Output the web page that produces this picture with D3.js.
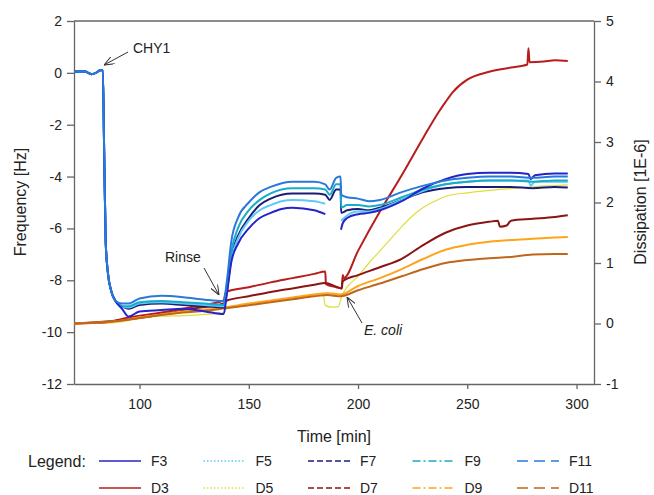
<!DOCTYPE html>
<html>
  <head>
    <meta charset="utf-8">
    <title>QCM frequency and dissipation</title>
    <script src="https://cdn.jsdelivr.net/npm/d3@7"></script>
    <style>
      body { margin: 0; background: #fff; }
      svg { font-family: Arial, "Liberation Sans", sans-serif; }
      .tick text { font-size: 14px; fill: #222; }
      .domain, .tick line { stroke: #666; stroke-width: 1.3; }
      .series { fill: none; stroke-linejoin: round; }
    </style>
  </head>
  <body>
    <svg id="chart" width="654" height="495"></svg>

    <script>
      // data: [time (min), value]
      // frequency (Hz), left axis
      F3 = [[70,0.05],[75,0.05],[78,-0.05],[80,0],[82,0.1],[83.2,0.1],[83.8,-3],[84.5,-6.5],[85.5,-7.7],[87,-8.4],[89,-8.8],[92,-9.1],
        [95,-9.4],[100,-9.2],[110,-9.15],[120,-9.1],[130,-9.2],[138.5,-9.3],[140,-8.5],[142,-7.3],[145,-6.6],[150,-6.0],[155,-5.6],
        [160,-5.4],[165,-5.25],[170,-5.2],[180,-5.3],[185,-5.45],[188,null],[192.2,-6.05],[193,-5.8],[195,-5.6],[200,-5.45],[205,-5.4],
        [210,-5.3],[220,-4.95],[230,-4.45],[240,-4.1],[250,-3.9],[260,-3.85],[270,-3.85],[278,-3.9],[279,-4.1],[281,-3.95],[290,-3.88],[296,-3.88]];
      F5 = [[70,0.05],[75,0.05],[78,-0.05],[80,0],[82,0.1],[83.2,0.1],[83.8,-3],[84.5,-6.5],[85.5,-7.7],[87,-8.4],[89,-8.8],[92,-9.0],
        [95,-9.05],[100,-8.9],[110,-8.85],[120,-8.9],[130,-8.95],[138.5,-9.0],[140,-8.4],[142,-7.2],[145,-6.4],[150,-5.7],[155,-5.3],
        [160,-5.1],[165,-4.95],[170,-4.9],[180,-4.95],[185,-5.05],[188,null],[192.2,-5.7],[195,-5.5],[200,-5.35],[205,-5.35],
        [210,-5.25],[220,-4.9],[230,-4.55],[240,-4.3],[250,-4.2],[260,-4.15],[270,-4.15],[278,-4.15],[279,-4.35],[281,-4.2],[290,-4.2],[296,-4.2]];
      F7 = [[70,0.05],[75,0.05],[78,-0.05],[80,0],[82,0.1],[83.2,0.1],[83.8,-3],[84.5,-6.5],[85.5,-7.7],[87,-8.4],[89,-8.8],[92,-9.0],
        [95,-9.1],[100,-8.95],[110,-8.9],[120,-8.95],[130,-9.0],[138.5,-9.05],[140,-8.4],[142,-7.1],[145,-6.3],[150,-5.6],[155,-5.1],
        [160,-4.85],[170,-4.65],[180,-4.65],[185,-4.7],[187,-4.9],[190,-4.5],[192,-4.5],[192.3,-5.4],[195,-5.3],[200,-5.25],[205,-5.3],
        [210,-5.2],[220,-4.9],[230,-4.6],[240,-4.45],[250,-4.4],[260,-4.4],[270,-4.4],[280,-4.45],[290,-4.4],[296,-4.42]];
      F9 = [[70,0.05],[75,0.05],[78,-0.05],[80,0],[82,0.1],[83.2,0.1],[83.8,-3],[84.5,-6.5],[85.5,-7.7],[87,-8.4],[89,-8.8],[92,-9.0],
        [95,-9.0],[100,-8.85],[110,-8.8],[120,-8.85],[130,-8.9],[138.5,-8.95],[140,-8.2],[142,-6.9],[145,-6.0],[150,-5.3],[155,-4.9],
        [160,-4.65],[170,-4.45],[180,-4.45],[185,-4.5],[187,-4.7],[190,-4.3],[192,-4.3],[192.3,-5.2],[195,-5.1],[200,-5.1],[205,-5.15],
        [210,-5.1],[220,-4.8],[230,-4.5],[240,-4.3],[250,-4.2],[260,-4.15],[270,-4.15],[280,-4.2],[290,-4.15],[296,-4.15]];
      F11 = [[70,0.05],[75,0.05],[78,-0.05],[80,0],[82,0.1],[83.2,0.1],[83.8,-3],[84.5,-6.5],[85.5,-7.7],[87,-8.4],[89,-8.8],[92,-8.9],
        [95,-8.9],[100,-8.7],[110,-8.6],[120,-8.65],[130,-8.75],[138.5,-8.8],[140,-8.0],[142,-6.5],[145,-5.6],[150,-5.0],[155,-4.6],
        [160,-4.4],[170,-4.2],[180,-4.2],[185,-4.3],[187,-4.5],[190,-4.05],[192,-4.0],[192.3,-4.7],[195,-4.8],[200,-4.85],[205,-4.95],
        [210,-4.9],[220,-4.6],[230,-4.35],[240,-4.15],[250,-4.05],[260,-4.0],[270,-4.0],[280,-4.05],[290,-4.0],[296,-4.0]];

      // dissipation (1E-6), right axis
      D3 = [[70,0],[85,0.02],[95,0.1],[110,0.18],[125,0.28],[138.5,0.38],[139.5,0.52],[150,0.6],[160,0.68],[170,0.75],[180,0.82],
        [185,0.86],[185.3,0.65],[190,0.6],[192.5,0.58],[193,0.8],[193.5,0.75],[200,1.2],[210,1.85],[220,2.45],[230,3.08],[237,3.5],
        [240,3.66],[243.5,3.83],[250,4.03],[260,4.16],[270,4.23],[277.5,4.28],[278,4.55],[278.5,4.32],[285,4.33],[290,4.35],[296,4.34]];
      D5 = [[70,0],[90,0.02],[100,0.08],[110,0.12],[120,0.13],[130,0.15],[138.5,0.18],[140,0.25],[150,0.3],[160,0.36],[170,0.42],
        [180,0.48],[184,0.5],[185,0.3],[188,0.27],[191,0.28],[192.5,0.45],[195,0.6],[200,0.78],[205,1.0],[210,1.2],[215,1.4],[220,1.6],
        [225,1.78],[230,1.92],[235,2.02],[240,2.1],[250,2.16],[260,2.2],[270,2.23],[280,2.26],[290,2.28],[296,2.29]];
      D7 = [[70,0],[90,0.05],[110,0.15],[125,0.25],[138.5,0.33],[140,0.38],[150,0.45],[160,0.52],[170,0.58],[180,0.64],[185,0.67],
        [190,0.61],[192.5,0.58],[193,0.7],[200,0.8],[210,0.93],[220,1.07],[230,1.3],[240,1.5],[250,1.62],[260,1.68],[264,1.7],
        [265,1.6],[268,1.62],[270,1.7],[280,1.73],[290,1.76],[296,1.79]];
      D9 = [[70,0],[90,0.04],[100,0.1],[110,0.15],[120,0.2],[130,0.23],[139,0.27],[150,0.33],[160,0.38],[170,0.43],[180,0.48],
        [186,0.5],[192,0.48],[200,0.62],[210,0.75],[220,0.9],[230,1.07],[240,1.22],[250,1.3],[260,1.35],[270,1.38],[280,1.4],[290,1.42],[296,1.43]];
      D11 = [[70,0],[90,0.04],[100,0.09],[110,0.14],[120,0.18],[130,0.21],[139,0.25],[150,0.3],[160,0.35],[170,0.4],[180,0.45],
        [186,0.47],[192,0.45],[200,0.55],[210,0.66],[220,0.78],[230,0.9],[240,1.0],[250,1.05],[260,1.08],[270,1.1],[280,1.14],[290,1.15],[296,1.15]];

      xTicks = [100, 150, 200, 250, 300];
      freqTicks = [2, 0, -2, -4, -6, -8, -10, -12];
      dissTicks = [5, 4, 3, 2, 1, 0, -1];

      freqSeries = [
        { name: "F3", data: F3, colour: "#2424c8", dash: null },
        { name: "F5", data: F5, colour: "#5ccbf5", dash: "1.5,2" },
        { name: "F7", data: F7, colour: "#1c1c78", dash: "6,3" },
        { name: "F9", data: F9, colour: "#18acc8", dash: "8,3,2,3" },
        { name: "F11", data: F11, colour: "#2a78dc", dash: "11,6" }
      ];
      dissSeries = [
        { name: "D3", data: D3, colour: "#b81c1c", dash: null },
        { name: "D5", data: D5, colour: "#dede3a", dash: "1.5,2" },
        { name: "D7", data: D7, colour: "#8c1414", dash: "6,3" },
        { name: "D9", data: D9, colour: "#ffa41a", dash: "8,3,2,3" },
        { name: "D11", data: D11, colour: "#c0661c", dash: "11,6" }
      ];

      // elements
      svg = d3.select("#chart");

      x = d3.scaleLinear().domain([70, 308]).range([74, 594]);
      yF = d3.scaleLinear().domain([-12, 2]).range([384, 21]);
      yD = d3.scaleLinear().domain([-1, 5]).range([384, 21]);

      plain = function(d) { return String(d); };

      // frame
      svg.append("line")
        .attr("x1", 74).attr("x2", 594).attr("y1", 21).attr("y2", 21)
        .attr("stroke", "#666").attr("stroke-width", 1.3);

      svg.append("g")
        .attr("transform", "translate(0,384)")
        .call(d3.axisBottom(x).tickValues(xTicks).tickFormat(plain).tickSize(5).tickSizeOuter(0).tickPadding(10));
      svg.append("g")
        .attr("transform", "translate(74,0)")
        .call(d3.axisLeft(yF).tickValues(freqTicks).tickFormat(plain).tickSize(7).tickSizeOuter(0).tickPadding(5));
      svg.append("g")
        .attr("transform", "translate(594,0)")
        .call(d3.axisRight(yD).tickValues(dissTicks).tickFormat(plain).tickSize(7).tickSizeOuter(0).tickPadding(5));

      // series
      lineF = d3.line()
        .defined(function(d) { return d[1] !== null; })
        .x(function(d) { return x(d[0]); })
        .y(function(d) { return yF(d[1]); })
        .curve(d3.curveMonotoneX);
      lineD = d3.line()
        .x(function(d) { return x(d[0]); })
        .y(function(d) { return yD(d[1]); })
        .curve(d3.curveMonotoneX);

      plot = svg.append("g");
      // dissipation first; order chosen so the brown/orange cluster sits on top early on
      [dissSeries[1], dissSeries[0], dissSeries[2], dissSeries[3], dissSeries[4]].forEach(function(s) {
        plot.append("path")
          .attr("class", "series")
          .attr("d", lineD(s.data))
          .attr("stroke", s.colour)
          .attr("stroke-width", s.name == "D5" ? 1.2 : 2);
      });
      [freqSeries[2], freqSeries[1], freqSeries[3], freqSeries[0], freqSeries[4]].forEach(function(s) {
        plot.append("path")
          .attr("class", "series")
          .attr("d", lineF(s.data))
          .attr("stroke", s.colour)
          .attr("stroke-width", 2);
      });

      // annotations
      svg.append("defs").append("marker")
        .attr("id", "arrow")
        .attr("viewBox", "0 0 10 8")
        .attr("refX", 10).attr("refY", 4)
        .attr("markerWidth", 10).attr("markerHeight", 8)
        .attr("markerUnits", "userSpaceOnUse")
        .attr("orient", "auto")
        .append("path")
          .attr("d", "M0,0 L10,4 L0,8")
          .attr("fill", "none")
          .attr("stroke", "#333")
          .attr("stroke-width", 1);

      notes = [
        { text: "CHY1", tx: 133, ty: 53, x1: 128, y1: 52, x2: 104, y2: 65, italic: false },
        { text: "Rinse", tx: 165, ty: 262, x1: 204, y1: 268, x2: 219, y2: 295, italic: false },
        { text: "E. coli", tx: 364, ty: 335, x1: 362, y1: 323, x2: 347, y2: 297, italic: true }
      ];
      notes.forEach(function(n) {
        svg.append("line")
          .attr("x1", n.x1).attr("y1", n.y1).attr("x2", n.x2).attr("y2", n.y2)
          .attr("stroke", "#333").attr("stroke-width", 1)
          .attr("marker-end", "url(#arrow)");
        svg.append("text")
          .attr("x", n.tx).attr("y", n.ty)
          .attr("font-size", 14)
          .attr("font-style", n.italic ? "italic" : "normal")
          .attr("fill", "#222")
          .text(n.text);
      });

      // axis titles
      svg.append("text")
        .attr("transform", "translate(26,202) rotate(-90)")
        .attr("text-anchor", "middle")
        .attr("font-size", 16).attr("fill", "#222")
        .text("Frequency [Hz]");
      svg.append("text")
        .attr("transform", "translate(646,202) rotate(-90)")
        .attr("text-anchor", "middle")
        .attr("font-size", 16).attr("fill", "#222")
        .text("Dissipation [1E-6]");
      svg.append("text")
        .attr("x", 334).attr("y", 442)
        .attr("text-anchor", "middle")
        .attr("font-size", 16).attr("fill", "#222")
        .text("Time [min]");

      // legend
      legend = svg.append("g");
      legend.append("text")
        .attr("x", 28).attr("y", 467)
        .attr("font-size", 16).attr("fill", "#222")
        .text("Legend:");
      [freqSeries, dissSeries].forEach(function(row, r) {
        rowY = 461 + r * 27;
        row.forEach(function(s, i) {
          lx = 99 + i * 104.5;
          legend.append("line")
            .attr("x1", lx).attr("x2", lx + 42)
            .attr("y1", rowY).attr("y2", rowY)
            .attr("stroke", s.colour)
            .attr("stroke-width", 1.6)
            .attr("stroke-dasharray", s.dash);
          legend.append("text")
            .attr("x", lx + 52).attr("y", rowY + 5)
            .attr("font-size", 14).attr("fill", "#222")
            .text(s.name);
        });
      });
    </script>
  </body>
</html>
